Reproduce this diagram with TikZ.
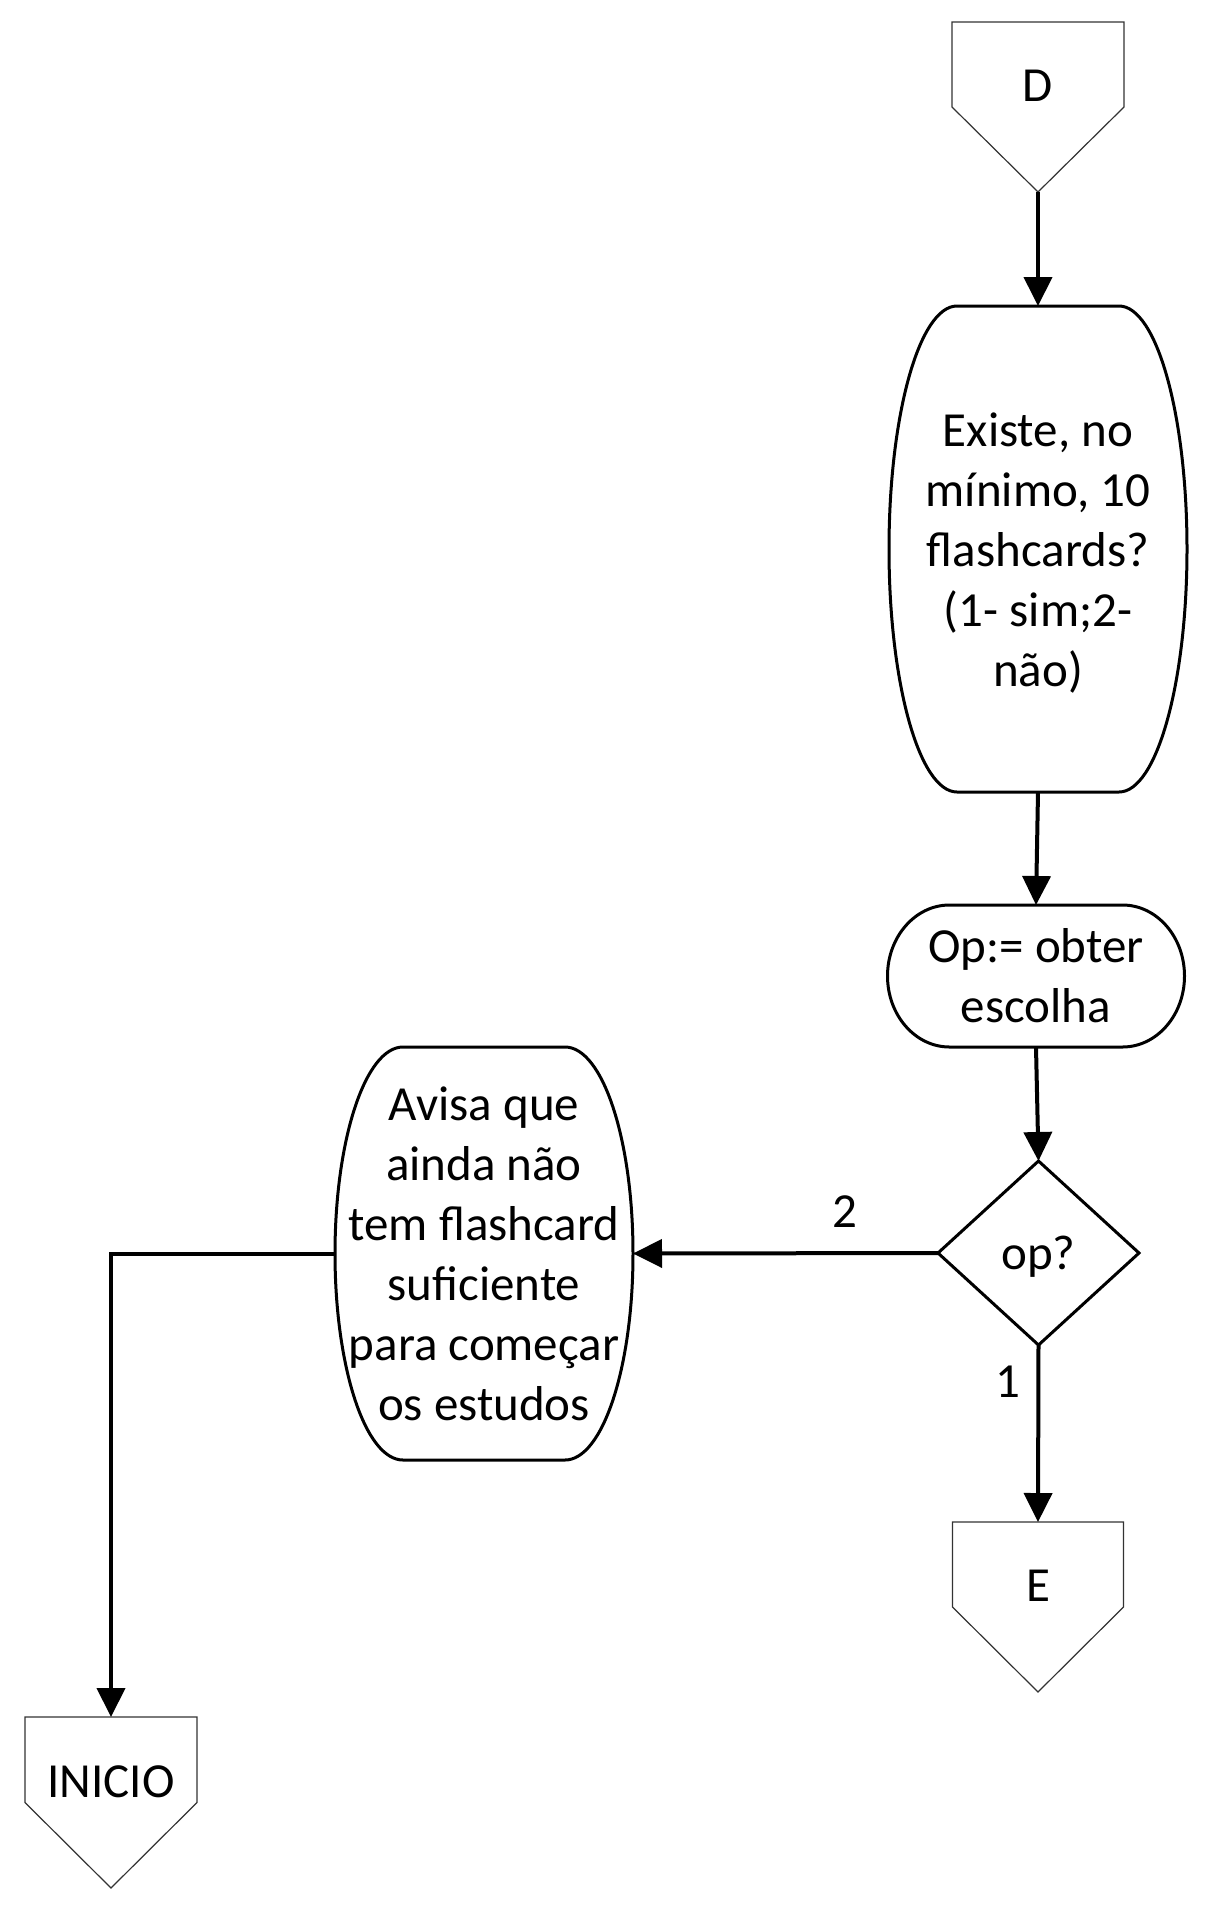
\documentclass[tikz,border=0pt]{standalone}
\usepackage{fontspec}
\setmainfont{Carlito}
\usetikzlibrary{arrows.meta}
\tikzset{
  box/.style={draw=none, inner sep=0pt, outer sep=0pt, align=center,
    font=\fontsize{49}{60}\selectfont},
  shp/.style={draw=black, line width=3pt, fill=white},
  pent/.style={draw=black!80, line width=1.2pt, fill=white},
  txt/.style={inner sep=0pt, font=\fontsize{49}{60}\selectfont},
  conn/.style={draw=black, line width=4pt, -{Triangle[length=29pt,width=28pt]}},
  plain/.style={draw=black, line width=4pt}
}
\begin{document}
\begin{tikzpicture}[x=1pt,y=1pt]
\useasboundingbox (0,0) rectangle (1208,-1912);
% pentagon nodes
\node[box, minimum width=172pt, minimum height=170pt] (d) at (1038,-107) {};
\node[box, minimum width=171pt, minimum height=170pt] (e) at (1038,-1607) {};
\node[box, minimum width=172pt, minimum height=171pt] (ini) at (111,-1802.5) {};
\draw[pent] (d.north west) -- (d.north east) -- (d.east) -- (d.south) -- (d.west) -- cycle;
\draw[pent] (e.north west) -- (e.north east) -- (e.east) -- (e.south) -- (e.west) -- cycle;
\draw[pent] (ini.north west) -- (ini.north east) -- (ini.east) -- (ini.south) -- (ini.west) -- cycle;
\node[txt] (dtxt) at ([yshift=21pt]d.center) {D};
\node[txt] (etxt) at ([yshift=21pt]e.center) {E};
\node[txt] (initxt) at ([yshift=21pt]ini.center) {INICIO};
% curved boxes
\node[box, minimum width=298pt, minimum height=486pt] (ex) at (1038,-549) {};
\draw[shp] ([xshift=68pt]ex.north west) -- ([xshift=-68pt]ex.north east)
  arc[start angle=90, end angle=-90, x radius=68pt, y radius=243pt]
  -- ([xshift=68pt]ex.south west)
  arc[start angle=270, end angle=90, x radius=68pt, y radius=243pt] -- cycle;
\node[box] (extxt) at ([yshift=-4pt]ex.center) {Existe, no\\m\'{\i}nimo, 10\\flashcards?\\(1- sim;2-\\n\~ao)};
\node[box, minimum width=297pt, minimum height=142pt] (op) at (1036,-976) {};
\draw[shp] ([xshift=62pt]op.north west) -- ([xshift=-62pt]op.north east)
  arc[start angle=90, end angle=-90, x radius=62pt, y radius=71pt]
  -- ([xshift=62pt]op.south west)
  arc[start angle=270, end angle=90, x radius=62pt, y radius=71pt] -- cycle;
\node[box] (optxt) at (op.center) {Op:= obter\\escolha};
\node[box, minimum width=298pt, minimum height=413pt] (av) at (484,-1253.5) {};
\draw[shp] ([xshift=68pt]av.north west) -- ([xshift=-68pt]av.north east)
  arc[start angle=90, end angle=-90, x radius=68pt, y radius=206.5pt]
  -- ([xshift=68pt]av.south west)
  arc[start angle=270, end angle=90, x radius=68pt, y radius=206.5pt] -- cycle;
\node[box] (avtxt) at (av.center) {Avisa que\\ainda n\~ao\\tem flashcard\\suficiente\\para come\c{c}ar\\os estudos};
% diamond
\node[box, minimum width=201pt, minimum height=184pt] (dia) at (1038.5,-1253) {};
\draw[shp] (dia.north) -- (dia.east) -- (dia.south) -- (dia.west) -- cycle;
\node[txt] (diatxt) at ([yshift=-4pt]dia.center) {op?};
% connectors
\draw[conn] (d.south) -- (ex.north);
\draw[conn] (ex.south) -- (op.north);
\draw[conn] (op.south) -- (dia.north);
\draw[conn] (dia.west) -- node[pos=0.305, anchor=base, yshift=26pt, txt] (l2) {2} (av.east);
\draw[conn] (dia.south) -- node[pos=0.294, anchor=base, xshift=-30pt, txt] (l1) {1} (e.north);
\draw[conn] (av.west) -| (ini.north);
\end{tikzpicture}
\end{document}
